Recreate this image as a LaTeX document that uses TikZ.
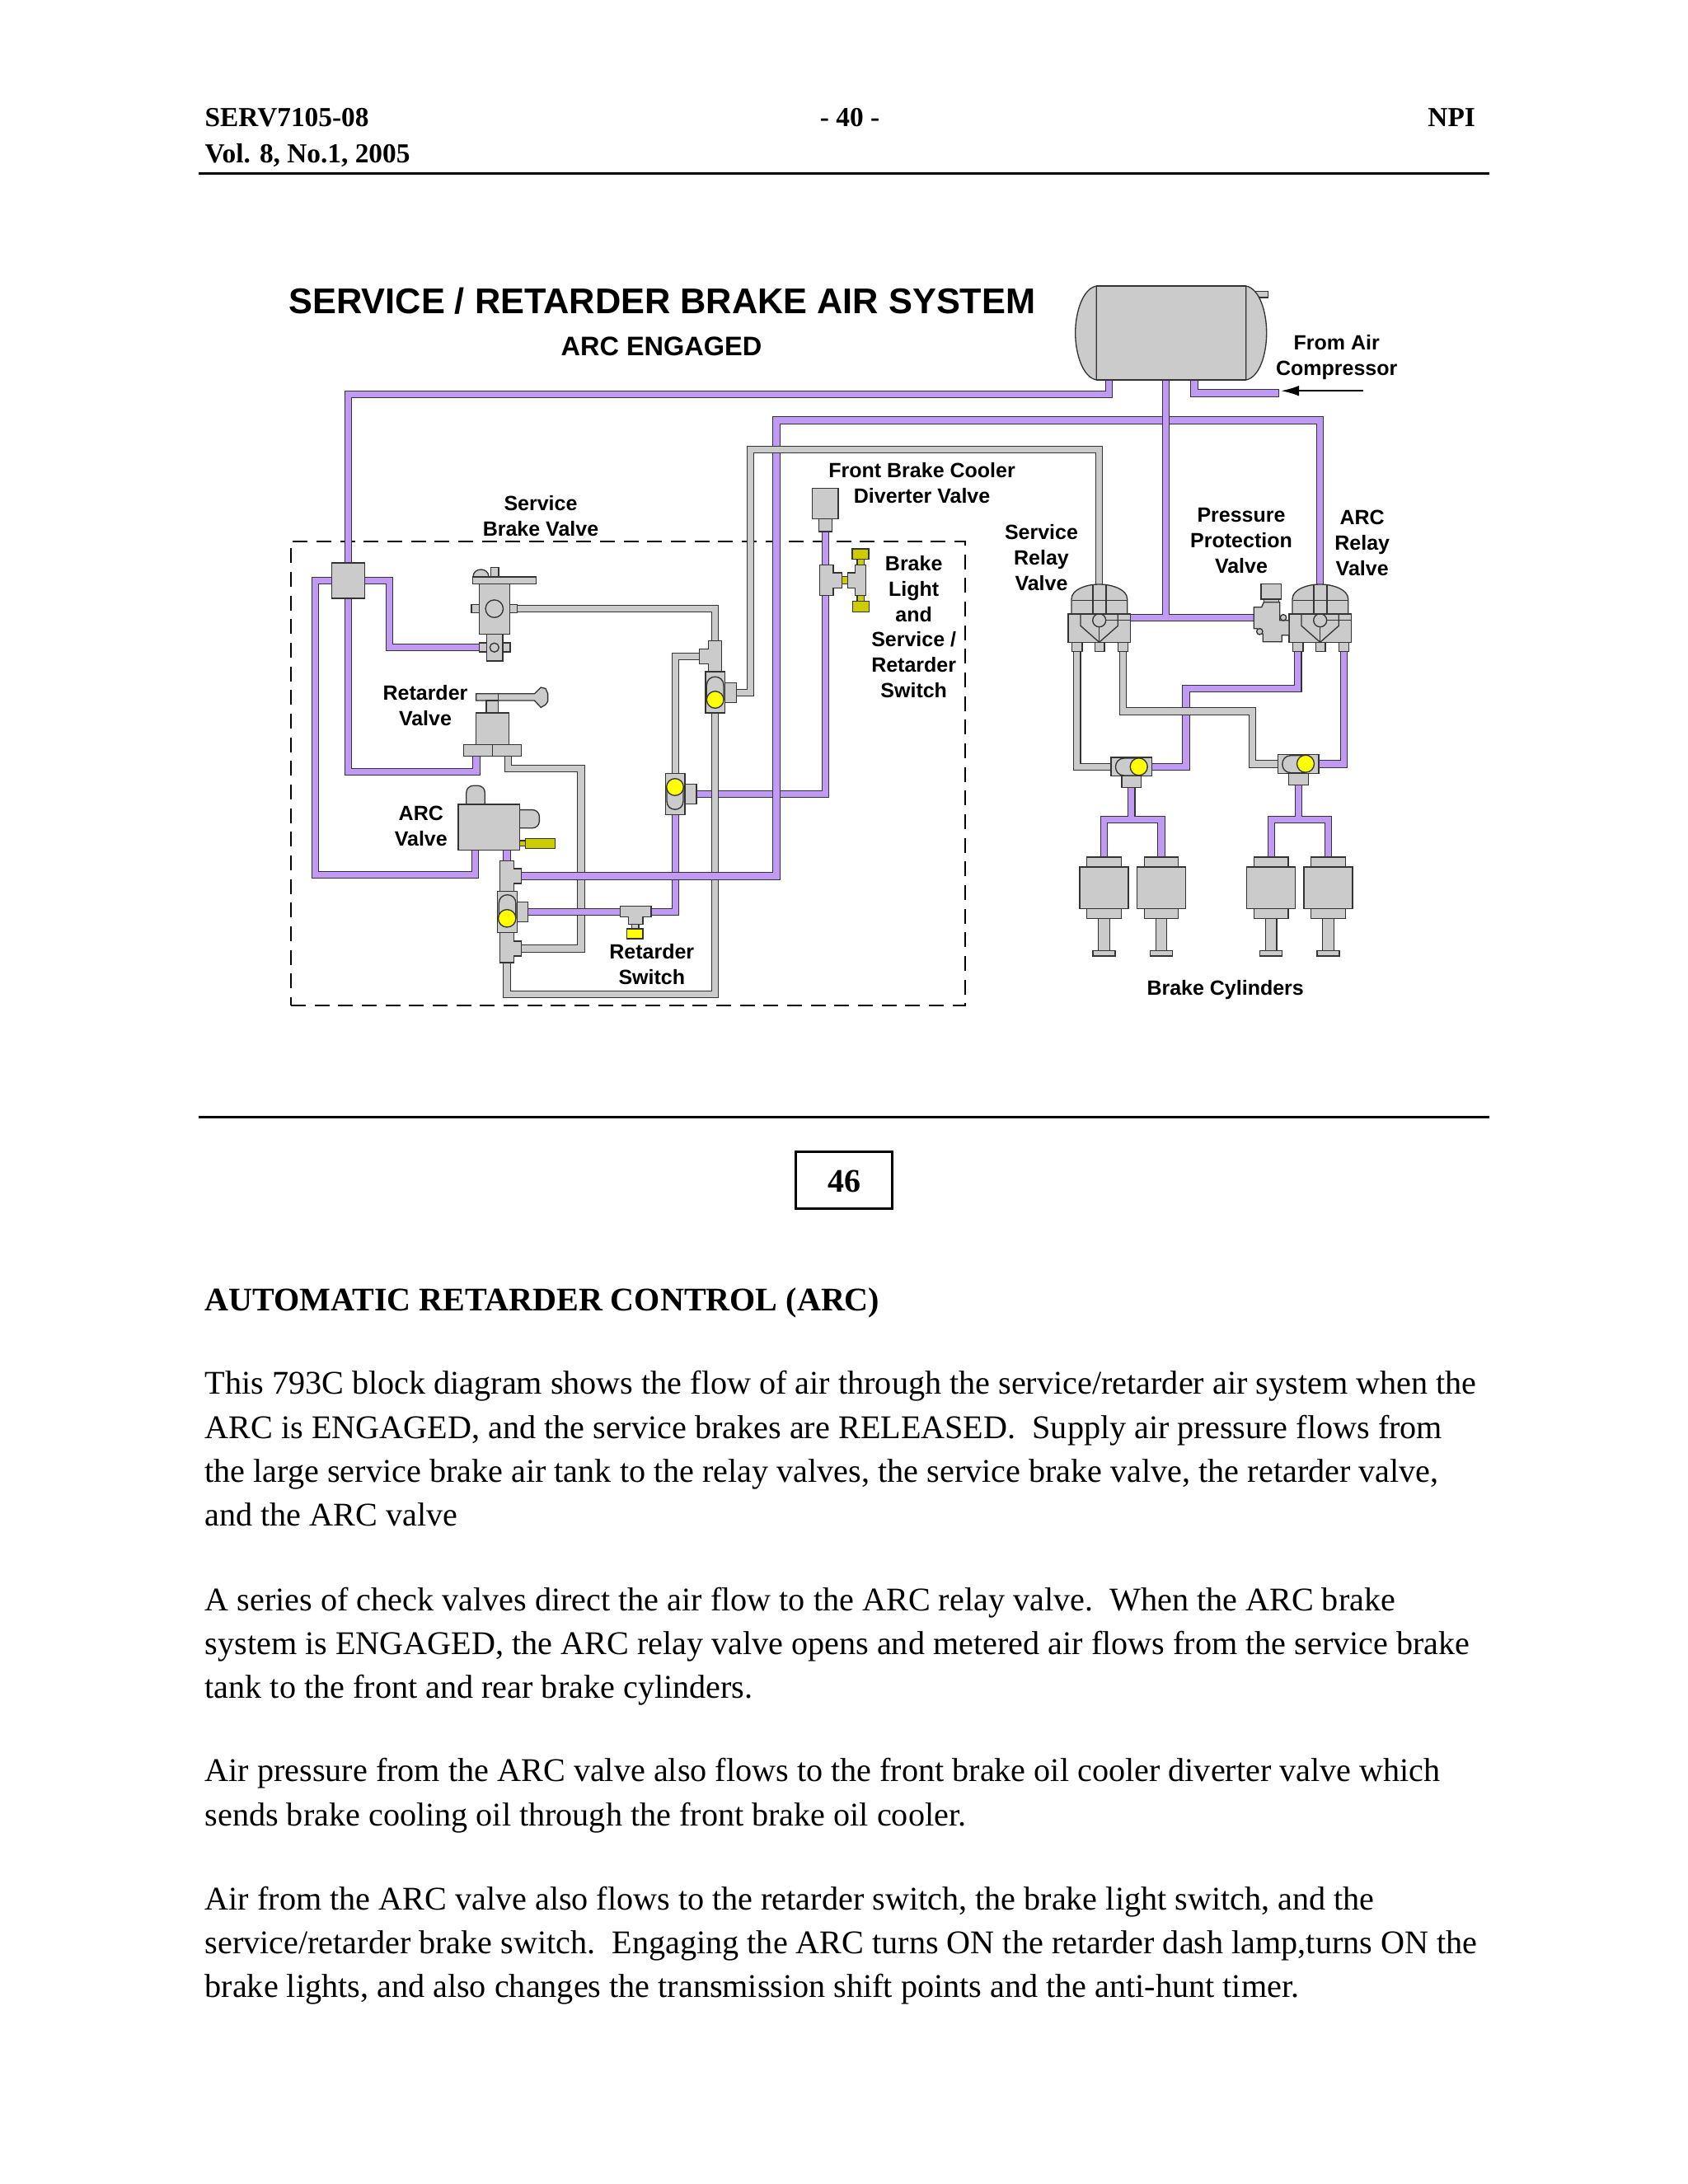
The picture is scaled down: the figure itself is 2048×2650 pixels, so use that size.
\documentclass[tikz,border=0pt]{standalone}
\usepackage{fontspec}
\setmainfont{Liberation Serif}
\newfontfamily\labelfont{Liberation Sans}[Scale=1.0]
\usetikzlibrary{arrows.meta}
\pgfdeclarelayer{pipes}
\pgfsetlayers{pipes,main}
\definecolor{partgray}{HTML}{CBCBCB}
\definecolor{airpurple}{HTML}{C09AF5}
\definecolor{edgeink}{HTML}{333333}
\definecolor{darkyel}{HTML}{CCCC00}
\definecolor{brightyel}{HTML}{FFFF00}
\tikzset{
  part/.style={draw=edgeink,fill=partgray,line width=0.4pt,inner sep=0pt,outer sep=0pt},
  partd/.style={draw=edgeink,fill=partgray,line width=0.4pt,line join=miter},
  thin ink/.style={draw=edgeink,line width=0.4pt},
  ppipe/.style={draw=edgeink,line width=0.32pt,double=airpurple,double distance=2.15pt,line join=miter,line cap=butt},
  gpipe/.style={draw=edgeink,line width=0.32pt,double=partgray,double distance=2.15pt,line join=miter,line cap=butt},
  lab/.style={font=\labelfont\bfseries\fontsize{7.5}{9.25}\selectfont,align=center,anchor=base,inner sep=0pt},
  hdr/.style={font=\bfseries\fontsize{10}{12}\selectfont,anchor=base west,inner sep=0pt},
  bodyline/.style={font=\frenchspacing\fontsize{12.05}{16}\selectfont,anchor=base west,inner sep=0pt},
  rulebar/.style={draw=black,line width=0.9pt},
  checkball/.style={draw=edgeink,fill=brightyel,line width=0.4pt},
}
\newcommand{\compbox}[6][]{%
  \pgfmathsetmacro\cbx{((#3)+(#5))/2}%
  \pgfmathsetmacro\cby{((#4)+(#6))/2}%
  \pgfmathsetmacro\cbw{((#5)-(#3))*0.3}%
  \pgfmathsetmacro\cbh{((#6)-(#4))*0.3}%
  \node[part,minimum width=\cbw pt,minimum height=\cbh pt,#1] (#2) at (\cbx,\cby) {};}
\begin{document}
\begin{tikzpicture}[x=0.3pt,y=-0.3pt]
\useasboundingbox (0,0) rectangle (2048,2650);

%% ---------- header and rules ----------
\node[hdr] (hdrA) at (248,153) {SERV7105-08};
\node[hdr] (hdrB) at (248,197) {Vol. 8, No.1, 2005};
\node[hdr,anchor=base] (hdrC) at (1031,153) {- 40 -};
\node[hdr,anchor=base east] (hdrD) at (1790.5,153) {NPI};
\coordinate (ruleAl) at (241,210); \coordinate (ruleAr) at (1807,210);
\coordinate (ruleBl) at (241,1355); \coordinate (ruleBr) at (1807,1355);
\draw[rulebar] (ruleAl) -- (ruleAr);
\draw[rulebar] (ruleBl) -- (ruleBr);
\compbox[fill=white,draw=black,line width=0.9pt]{numbox}{965}{1397.5}{1082}{1466}
\node[hdr,anchor=base,font=\bfseries\fontsize{12}{14}\selectfont] (numtxt) at (1024,1446) {46};

%% ---------- diagram titles ----------
\node[lab,font=\labelfont\bfseries\fontsize{13}{16}\selectfont] (title) at (803.5,380) {SERVICE / RETARDER BRAKE AIR SYSTEM};
\node[lab,font=\labelfont\bfseries\fontsize{9.75}{12}\selectfont] (subtitle) at (802.5,431.6) {ARC ENGAGED};

%% ---------- tank ----------
\compbox{tanknub}{1511.7}{353.6}{1538.7}{361}
\draw[partd] (1330.3,347) .. controls (1314,350) and (1304.7,378) .. (1304.7,404) .. controls (1304.7,430) and (1314,458) .. (1330.3,461) -- cycle;
\draw[partd] (1511.7,347) .. controls (1528,350) and (1536.7,378) .. (1536.7,404) .. controls (1536.7,430) and (1528,458) .. (1511.7,461) -- cycle;
\compbox{tank}{1330.3}{347}{1511.7}{461}
\coordinate (tankA) at (1345.3,461);
\coordinate (tankC) at (1414.7,461);
\coordinate (tankD) at (1449,461);
\coordinate (compEnd) at (1551.3,477);
\coordinate (arrowTail) at (1654,474.2);
\coordinate (arrowTip) at (1554,474.2);
\draw[-{Latex[length=6.6pt,width=3.8pt]},line width=0.75pt,black] (arrowTail) -- (arrowTip);

%% ---------- junction block ----------
\compbox{jblock}{402.5}{683}{442.5}{726}

%% ---------- service brake valve ----------
\draw[partd] (574,700) .. controls (574,688) and (593,688) .. (593,700) -- cycle;
\compbox{sbvknob}{595.4}{688.4}{605}{700}
\compbox{sbvbar}{573.7}{699.9}{650.4}{708.6}
\compbox{sbvL}{572}{733.6}{581.2}{743.6}
\compbox{sbvR}{618.4}{733.6}{627.5}{743.6}
\compbox{sbvbody}{581.2}{708.6}{618.4}{769.5}
\draw[thin ink] (599.8,738.6) circle[radius=10.7];
\compbox{sbvside}{581.2}{780}{619}{791}
\compbox{sbvlow}{590.3}{769.5}{610}{802}
\draw[thin ink] (599.8,785.7) circle[radius=5.5];

%% ---------- retarder valve ----------
\draw[partd] (577.6,841.8) -- (648.4,841.8) -- (656.3,834) -- (662,835.5) -- (664.6,841.4) -- (664.6,851) -- (662,855) -- (656.3,858.4) -- (648.4,850) -- (577.6,850) -- cycle;
\draw[thin ink] (604.5,841.8) -- (604.5,850);
\compbox{rvneck}{590}{850}{604.5}{865}
\compbox{rvbody}{577.6}{865}{617.2}{903.5}
\compbox{rvbase}{562.2}{903.5}{632.6}{917.7}
\draw[thin ink] (597.4,903.5) -- (597.4,917.7);
\coordinate (rvIn) at (578,917.7);
\coordinate (rvOut) at (616.8,917.7);

%% ---------- ARC valve ----------
\draw[partd,rounded corners=2.5pt] (565.8,976) -- (565.8,953.3) -- (588.3,953.3) -- (588.3,976);
\draw[partd,rounded corners=2.5pt] (630.6,982.6) -- (654.4,982.6) -- (654.4,1004.7) -- (630.6,1004.7);
\compbox{arcbody}{555.9}{976}{630.6}{1031.2}
\compbox[fill=darkyel]{arcsolneck}{630.6}{1020}{637.3}{1026.5}
\compbox[fill=darkyel]{arcsol}{637.3}{1017.8}{673.7}{1029.2}
\coordinate (arcIn) at (576.5,1031.2);
\coordinate (arcOut) at (615,1031.2);

%% ---------- tee, check valve, tee below the ARC valve ----------
\draw[partd] (606.5,1044.3) -- (623.5,1044.3) -- (623.5,1054) -- (632.6,1054) -- (632.6,1072) -- (623.5,1072) -- (623.5,1081.4) -- (606.5,1081.4) -- cycle;
\coordinate (teeMidN) at (615,1044.3);
\coordinate (teeMidE) at (632.6,1063);
\draw[partd] (606.5,1131.3) -- (623.5,1131.3) -- (623.5,1142) -- (632.6,1142) -- (632.6,1160) -- (623.5,1160) -- (623.5,1168) -- (606.5,1168) -- cycle;
\coordinate (teeLowE) at (632.6,1151);
\coordinate (teeLowS) at (615,1168);
\compbox{chkCnub}{627.5}{1094.5}{640.5}{1118.2}
\compbox{chkC}{603.7}{1081.4}{627.5}{1131.3}
\draw[thin ink] (605.3,1114) -- (605.3,1096) .. controls (605.3,1082.3) and (625.9,1082.3) .. (625.9,1096) -- (625.9,1114);
\draw[checkball] (615.2,1114.3) circle[radius=10.7];

%% ---------- retarder switch ----------
\draw[partd] (752.4,1099.2) -- (790,1099.2) -- (790,1112.5) -- (780,1112.5) -- (780,1121.4) -- (762.5,1121.4) -- (762.5,1112.5) -- (752.4,1112.5) -- cycle;
\compbox{rsneck}{766.5}{1121.4}{775}{1127}
\compbox[fill=brightyel]{rshead}{760.7}{1127}{780}{1139}

%% ---------- upper tee and two check valves ----------
\draw[partd] (859.3,777.3) -- (875.7,777.3) -- (875.7,815) -- (859.3,815) -- (859.3,805.3) -- (848.3,805.3) -- (848.3,787.3) -- (859.3,787.3) -- cycle;
\coordinate (teeUpN) at (867.5,777.3);
\coordinate (teeUpW) at (848.3,796.3);
\compbox{chkAnub}{879.3}{828.3}{893.3}{852.3}
\compbox{chkA}{856}{815}{879.3}{865}
\draw[thin ink] (857.3,849) -- (857.3,831.7) .. controls (857.3,817.7) and (878,817.7) .. (878,831.7) -- (878,849);
\draw[checkball] (867.7,849) circle[radius=10.3];
\compbox{chkBnub}{831}{951.7}{845}{975.7}
\compbox{chkB}{807.7}{938.3}{831}{988.3}
\draw[thin ink] (809,955) -- (809,971.7) .. controls (809,985.7) and (829,985.7) .. (829,971.7) -- (829,955);
\draw[checkball] (819,955) circle[radius=10.3];

%% ---------- front brake cooler diverter valve, brake light switches ----------
\compbox{divbody}{985.7}{592.3}{1017}{629.3}
\compbox{divneck}{993.7}{629.3}{1009.3}{645}
\draw[partd] (994.3,685.3) -- (1011,685.3) -- (1011,695) -- (1021.7,695) -- (1021.7,713.3) -- (1011,713.3) -- (1011,722.7) -- (994.3,722.7) -- cycle;
\compbox[fill=darkyel]{blink}{1021.7}{699.7}{1028.7}{708.3}
\draw[partd] (1037.3,685.3) -- (1050.7,685.3) -- (1050.7,722.7) -- (1037.3,722.7) -- (1037.3,713.3) -- (1028.7,713.3) -- (1028.7,695) -- (1037.3,695) -- cycle;
\compbox[fill=darkyel]{bltopneck}{1040}{678.7}{1048.3}{685.3}
\compbox[fill=darkyel]{bltop}{1034}{666}{1054}{678.7}
\compbox[fill=darkyel]{blbotneck}{1040}{722.7}{1048.3}{729.7}
\compbox[fill=darkyel]{blbot}{1034.3}{729.7}{1054.3}{742.3}

%% ---------- relay valves ----------
\foreach \nm/\dx in {S/0,A/268}{
  \compbox{portL\nm}{1300.7+\dx}{779.3}{1313+\dx}{790.7}
  \compbox{portM\nm}{1328.3+\dx}{779.3}{1340+\dx}{790.7}
  \compbox{portR\nm}{1356.3+\dx}{779.3}{1368.3+\dx}{790.7}
  \draw[partd] (1300+\dx,745) -- (1300+\dx,727) .. controls (1300+\dx,715) and (1318+\dx,709) .. (1333.7+\dx,709) .. controls (1349+\dx,709) and (1367.7+\dx,715) .. (1367.7+\dx,727) -- (1367.7+\dx,745) -- cycle;
  \draw[thin ink] (1326+\dx,709.5) -- (1326+\dx,745) (1342+\dx,709.5) -- (1342+\dx,745) (1300.5+\dx,728.7) -- (1367.2+\dx,728.7);
  \compbox{base\nm}{1296+\dx}{745}{1371.7+\dx}{779.3}
  \draw[thin ink] (1311+\dx,745) -- (1311+\dx,759.3) -- (1333.7+\dx,779.3) -- (1356.3+\dx,759.3) -- (1356.3+\dx,745);
  \draw[thin ink] (1333.7+\dx,760) -- (1333.7+\dx,779.3);
  \draw[thin ink] (1342+\dx,752.7) -- (1371.7+\dx,752.7);
  \draw[thin ink] (1333.7+\dx,752.7) circle[radius=8];
  \coordinate (top\nm) at (1333.7+\dx,709.5);
}
\coordinate (baseSE) at (1371.7,749.3);

%% ---------- pressure protection valve ----------
\draw[partd] (1521.3,736.7) -- (1530.7,736.7) -- (1533.3,730.7) -- (1552.7,730.7) -- (1552.7,752.7) -- (1564,752.7) -- (1564,770.7) -- (1555.3,770.7) -- (1555.3,778.7) -- (1532.3,778.7) -- (1532.3,769.3) -- (1525,762.7) -- (1521.3,762.7) -- cycle;
\compbox{ppvneck}{1533.3}{727}{1551.7}{730.7}
\compbox{ppvcap}{1530}{708.7}{1554.7}{727}
\draw[partd] (1557,749.3) circle[radius=3.7];
\draw[partd] (1528.3,766.3) circle[radius=3.7];
\coordinate (ppvW) at (1521.3,749.3);

%% ---------- shuttle valves ----------
\compbox{stemA}{1361}{941.7}{1384.7}{955.7}
\compbox{shutA}{1348}{919}{1397.7}{941.7}
\draw[thin ink] (1381.7,920) -- (1364,920) .. controls (1350,920) and (1350,941) .. (1364,941) -- (1381.7,941);
\draw[checkball] (1381.7,930.3) circle[radius=10.5];
\compbox{stemB}{1563.3}{938.3}{1587.3}{952.3}
\compbox{shutB}{1550.3}{915.7}{1600}{938.3}
\draw[thin ink] (1584,916.7) -- (1566.3,916.7) .. controls (1552.3,916.7) and (1552.3,937.7) .. (1566.3,937.7) -- (1584,937.7);
\draw[checkball] (1584,926.7) circle[radius=10.5];

%% ---------- brake cylinders ----------
\foreach \i/\dx in {1/0,2/69.5,3/202.7,4/272}{
  \compbox{rod\i}{1332.7+\dx}{1114.3}{1346.3+\dx}{1153.7}
  \compbox{foot\i}{1326+\dx}{1153.7}{1353+\dx}{1160}
  \compbox{cap\i}{1318.7+\dx}{1040}{1360.3+\dx}{1052}
  \compbox{lowcap\i}{1318.7+\dx}{1102.3}{1360.3+\dx}{1114.3}
  \compbox{cyl\i}{1310+\dx}{1052}{1369+\dx}{1102.3}
}

%% ---------- corner points of the air lines ----------
\coordinate (cA) at (422.5,478.6);
\coordinate (cLeft) at (382.7,1061.3);
\coordinate (cRv) at (578,936.7);
\coordinate (cSbv) at (472.5,785.5);
\coordinate (cRet) at (705,932.8);
\coordinate (cLoop) at (615,1206.4);
\coordinate (cBig) at (942,510);
\coordinate (cGrayTop) at (910.3,545.3);
\coordinate (cCenter) at (1414.7,749.3);
\coordinate (cPurple) at (1439,835.6);
\coordinate (cGrayMid) at (1519.7,863);
\coordinate (cBranchA) at (1372.85,994.3);
\coordinate (cBranchB) at (1575.3,994.3);

%% ---------- lines, under the parts ----------
\begin{pgfonlayer}{pipes}
\fill[white] (0,0) rectangle (2048,2650);
\compbox[fill=none,draw=black,line width=0.45pt,dash pattern=on 5.4pt off 3.2pt]{ctrlbox}{353}{657}{1171}{1220}
\draw[gpipe] (rvOut) |- (cRet) |- (teeLowE);
\draw[ppipe] (chkBnub.east) -| (divneck.south);
\draw[gpipe] (chkA.south) |- (cLoop) -- (teeLowS);
\draw[gpipe] (teeUpW) -| (chkB.north);
\draw[gpipe] (sbvR.east) -| (teeUpN);
\draw[ppipe] (jblock.west) -| (cLeft) -| (arcIn);
\draw[ppipe] (jblock.south) |- (cRv) -- (rvIn);
\draw[ppipe] (jblock.east) -| (cSbv) -- (sbvside.west);
\draw[ppipe] (tankA) |- (cA) -- (jblock.north);
\draw[ppipe] (arcOut) -- (teeMidN);
\draw[ppipe] (chkCnub.east) -| (chkB.south);
\draw[ppipe] (teeMidE) -| (cBig) -| (topA);
\draw[gpipe] (chkAnub.east) -| (cGrayTop) -| (topS);
\draw[ppipe] (baseSE) -- (ppvW) (tankC) -- (cCenter);
\draw[ppipe] (tankD) |- (compEnd);
\draw[thin ink] ([yshift=1.4pt]compEnd) -- ([yshift=-1.4pt]compEnd);
\draw[gpipe] (portLS.south) |- (shutA.west);
\draw[ppipe] (shutA.east) -| (cPurple) -| (portLA.south);
\draw[gpipe] (portRS.south) |- (cGrayMid) |- (shutB.west);
\draw[ppipe] (portRA.south) |- (shutB.east);
\draw[ppipe] (cap1.north) |- (cBranchA) -| (cap2.north) (stemA.south) -- (cBranchA);
\draw[ppipe] (cap3.north) |- (cBranchB) -| (cap4.north) (stemB.south) -- (cBranchB);
\end{pgfonlayer}

%% ---------- diagram labels ----------
\node[lab] (lFrom) at (1621.7,455) {From Air\\Compressor};
\node[lab] (lSrv) at (1263.5,716) {Service\\Relay\\Valve};
\node[lab] (lPpv) at (1506,695.3) {Pressure\\Protection\\Valve};
\node[lab] (lArcR) at (1652.7,698) {ARC\\Relay\\Valve};
\node[lab] (lFb) at (1118.6,610) {Front Brake Cooler\\Diverter Valve};
\node[lab] (lSb) at (656,650) {Service\\Brake Valve};
\node[lab] (lBl) at (1108.7,846.6) {Brake\\Light\\and\\Service /\\Retarder\\Switch};
\node[lab] (lRv) at (516,880.6) {Retarder\\Valve};
\node[lab] (lArc) at (510.8,1026) {ARC\\Valve};
\node[lab] (lRs) at (790.8,1194.8) {Retarder\\Switch};
\node[lab] (lCyl) at (1486.7,1207.6) {Brake Cylinders};

%% ---------- text ----------
\node[hdr,font=\frenchspacing\bfseries\fontsize{12.03}{14}\selectfont] (head) at (248,1590) {AUTOMATIC RETARDER CONTROL (ARC)};
\node[bodyline] (b1) at (248,1691.7) {This 793C block diagram shows the flow of air through the service/retarder air system when the};
\node[bodyline] (b2) at (248,1745) {ARC is ENGAGED, and the service brakes are RELEASED.\ \ Supply air pressure flows from};
\node[bodyline] (b3) at (248,1798.3) {the large service brake air tank to the relay valves, the service brake valve, the retarder valve,};
\node[bodyline] (b4) at (248,1851.7) {and the ARC valve};
\node[bodyline] (b5) at (248,1954) {A series of check valves direct the air flow to the ARC relay valve.\ \ When the ARC brake};
\node[bodyline] (b6) at (248,2007) {system is ENGAGED, the ARC relay valve opens and metered air flows from the service brake};
\node[bodyline] (b7) at (248,2060) {tank to the front and rear brake cylinders.};
\node[bodyline] (b8) at (248,2161.5) {Air pressure from the ARC valve also flows to the front brake oil cooler diverter valve which};
\node[bodyline] (b9) at (248,2215) {sends brake cooling oil through the front brake oil cooler.};
\node[bodyline] (b10) at (248,2317) {Air from the ARC valve also flows to the retarder switch, the brake light switch, and the};
\node[bodyline] (b11) at (248,2370) {service/retarder brake switch.\ \ Engaging the ARC turns ON the retarder dash lamp,turns ON the};
\node[bodyline] (b12) at (248,2423) {brake lights, and also changes the transmission shift points and the anti-hunt timer.};
\end{tikzpicture}
\end{document}
